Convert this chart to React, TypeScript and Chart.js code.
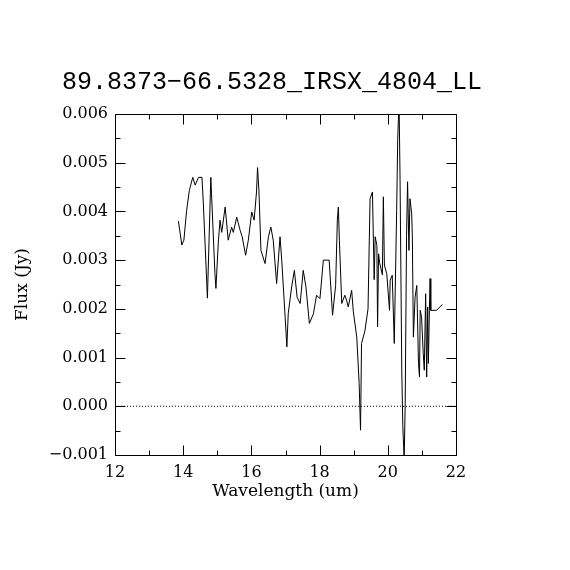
import React, { useEffect, useRef } from "react";
import { Chart, registerables } from "chart.js";

Chart.register(...registerables);

const TITLE = "89.8373\u221266.5328_IRSX_4804_LL";
const X_LABEL = "Wavelength (um)";
const Y_LABEL = "Flux (Jy)";

const X_MIN = 12;
const X_MAX = 22;
const X_MAJOR = 2;
const X_MINOR = 1;
const Y_MIN = -0.001;
const Y_MAX = 0.006;
const Y_MAJOR = 0.001;
const Y_MINOR = 0.0005;

const wavelength = [
  13.86, 13.96, 14.02, 14.10, 14.18, 14.28, 14.35, 14.45, 14.55, 14.59,
  14.71, 14.81, 14.83, 14.93, 14.96, 15.03, 15.08, 15.13, 15.23, 15.32,
  15.42, 15.47, 15.57, 15.67, 15.73, 15.83, 15.91, 16.01, 16.08, 16.15,
  16.18, 16.22, 16.28, 16.40, 16.50, 16.57, 16.64, 16.74, 16.84, 16.89,
  16.96, 17.04, 17.08, 17.18, 17.26, 17.34, 17.43, 17.52, 17.60, 17.70,
  17.82, 17.91, 18.01, 18.11, 18.28, 18.38, 18.47, 18.52, 18.55, 18.58,
  18.65, 18.74, 18.79, 18.84, 18.94, 18.99, 19.09, 19.16, 19.20, 19.23,
  19.33, 19.42, 19.48, 19.55, 19.60, 19.63, 19.68, 19.70, 19.73, 19.76,
  19.84, 19.87, 19.90, 19.97, 20.05, 20.07, 20.13, 20.19, 20.26, 20.29,
  20.33, 20.36, 20.41, 20.44, 20.48, 20.51, 20.55, 20.58, 20.62, 20.65,
  20.70, 20.72, 20.75, 20.80, 20.85, 20.90, 20.93, 20.95, 20.99, 21.04,
  21.07, 21.11, 21.14, 21.17, 21.19, 21.22, 21.24, 21.26, 21.43, 21.60,
];

const flux = [
  0.00380, 0.00331, 0.00341, 0.00402, 0.00443, 0.00470, 0.00454, 0.00470, 0.00470, 0.00417,
  0.00222, 0.00470, 0.00437, 0.00273, 0.00242, 0.00337, 0.00382, 0.00357, 0.00409, 0.00341,
  0.00368, 0.00357, 0.00388, 0.00361, 0.00348, 0.00310, 0.00341, 0.00399, 0.00382, 0.00440,
  0.00490, 0.00444, 0.00320, 0.00293, 0.00348, 0.00368, 0.00341, 0.00252, 0.00348, 0.00300,
  0.00218, 0.00122, 0.00190, 0.00245, 0.00279, 0.00224, 0.00211, 0.00279, 0.00245, 0.00170,
  0.00190, 0.00228, 0.00221, 0.00300, 0.00300, 0.00187, 0.00248, 0.00382, 0.00409, 0.00341,
  0.00211, 0.00228, 0.00218, 0.00204, 0.00238, 0.00194, 0.00142, 0.00047, -0.00049, 0.00129,
  0.00155, 0.00200, 0.00426, 0.00440, 0.00260, 0.00348, 0.00330, 0.00163, 0.00313, 0.00295,
  0.00270, 0.00430, 0.00290, 0.00272, 0.00197, 0.00259, 0.00269, 0.00129, 0.00402, 0.00546,
  0.00630, 0.00464, 0.00074, -0.00040, -0.00110, 0.00005, 0.00350, 0.00461, 0.00320, 0.00426,
  0.00396, 0.00348, 0.00142, 0.00224, 0.00248, 0.00088, 0.00060, 0.00197, 0.00183, 0.00108,
  0.00074, 0.00231, 0.00060, 0.00204, 0.00088, 0.00197, 0.00262, 0.00197, 0.00197, 0.00209,
];

const zeroLine = [
  { x: X_MIN, y: 0 },
  { x: X_MAX, y: 0 },
];

const TICK_FONT = { family: "'DejaVu Serif'", size: 16 };
const AXIS_TITLE_FONT = { family: "'DejaVu Serif'", size: 17 };

const framePlugin = {
  id: "frameTicks",
  afterDatasetsDraw(chart: any) {
    const { ctx, chartArea } = chart;
    const { left, right, top, bottom } = chartArea;
    const xs = chart.scales.x;
    const ys = chart.scales.y;
    ctx.save();
    ctx.strokeStyle = "#000";
    ctx.lineWidth = 1;
    ctx.beginPath();
    const L = Math.round(left) + 0.5;
    const R = Math.round(right) + 0.5;
    const T = Math.round(top) + 0.5;
    const B = Math.round(bottom) + 0.5;
    ctx.moveTo(L, T);
    ctx.lineTo(R, T);
    ctx.lineTo(R, B);
    ctx.lineTo(L, B);
    ctx.closePath();
    const nX = Math.round((X_MAX - X_MIN) / X_MINOR);
    for (let i = 0; i <= nX; i++) {
      const v = X_MIN + i * X_MINOR;
      const major = Math.abs(v / X_MAJOR - Math.round(v / X_MAJOR)) < 1e-6;
      const len = major ? 10 : 5;
      const px = Math.round(xs.getPixelForValue(v)) + 0.5;
      ctx.moveTo(px, B);
      ctx.lineTo(px, B - len);
      ctx.moveTo(px, T);
      ctx.lineTo(px, T + len);
    }
    const nY = Math.round((Y_MAX - Y_MIN) / Y_MINOR);
    for (let i = 0; i <= nY; i++) {
      const v = Y_MIN + i * Y_MINOR;
      const major = Math.abs(v / Y_MAJOR - Math.round(v / Y_MAJOR)) < 1e-6;
      const len = major ? 10 : 5;
      const py = Math.round(ys.getPixelForValue(v)) + 0.5;
      ctx.moveTo(L, py);
      ctx.lineTo(L + len, py);
      ctx.moveTo(R, py);
      ctx.lineTo(R - len, py);
    }
    ctx.stroke();
    ctx.restore();
  },
};

const titlePlugin = {
  id: "plotTitle",
  afterDraw(chart: any) {
    const { ctx } = chart;
    ctx.save();
    ctx.fillStyle = "#000";
    ctx.font = "25px 'Liberation Mono'";
    ctx.textAlign = "center";
    ctx.textBaseline = "middle";
    ctx.fillText(TITLE, 272, 82);
    ctx.restore();
  },
};

function formatY(v: number): string {
  if (Math.abs(v) < 1e-9) v = 0;
  return (v < 0 ? "\u2212" : "") + Math.abs(v).toFixed(3);
}

export default function App() {
  const canvasRef = useRef<HTMLCanvasElement | null>(null);

  useEffect(() => {
    const canvas = canvasRef.current;
    if (!canvas) return;
    const chart = new Chart(canvas, {
      type: "line",
      data: {
        datasets: [
          {
            data: wavelength.map((w, i) => ({ x: w, y: flux[i] })),
            borderColor: "#000",
            borderWidth: 1,
            pointRadius: 0,
            tension: 0,
            fill: false,
          },
          {
            data: zeroLine,
            borderColor: "#000",
            borderWidth: 1,
            borderDash: [1, 2],
            pointRadius: 0,
            fill: false,
          },
        ],
      },
      options: {
        animation: false,
        responsive: false,
        maintainAspectRatio: false,
        layout: { padding: { left: 0, right: 114, top: 114, bottom: 0 } },
        plugins: {
          legend: { display: false },
          title: { display: false },
          tooltip: { enabled: false },
        },
        scales: {
          x: {
            type: "linear",
            min: X_MIN,
            max: X_MAX,
            grid: { display: false, drawTicks: false },
            border: { display: false },
            ticks: {
              stepSize: X_MAJOR,
              color: "#000",
              font: TICK_FONT,
              padding: 8,
              maxRotation: 0,
              autoSkip: false,
            },
            title: {
              display: true,
              text: X_LABEL,
              color: "#000",
              font: AXIS_TITLE_FONT,
              padding: { top: 0, bottom: 68 },
            },
            afterFit: (s: any) => {
              s.height = 115;
            },
          },
          y: {
            type: "linear",
            min: Y_MIN,
            max: Y_MAX,
            grid: { display: false, drawTicks: false },
            border: { display: false },
            ticks: {
              stepSize: Y_MAJOR,
              color: "#000",
              font: TICK_FONT,
              padding: 7,
              callback: (v: any) => formatY(Number(v)),
            },
            title: {
              display: true,
              text: Y_LABEL,
              color: "#000",
              font: AXIS_TITLE_FONT,
              padding: { top: 12, bottom: 0 },
            },
            afterFit: (s: any) => {
              s.width = 115;
            },
          },
        },
      },
      plugins: [framePlugin, titlePlugin],
    });
    return () => chart.destroy();
  }, []);

  return (
    <div
      style={{
        position: "absolute",
        left: 0,
        top: 0,
        width: 570,
        height: 570,
        background: "#fff",
      }}
    >
      <canvas
        ref={canvasRef}
        width={570}
        height={570}
        style={{ display: "block", width: 570, height: 570 }}
      />
    </div>
  );
}
